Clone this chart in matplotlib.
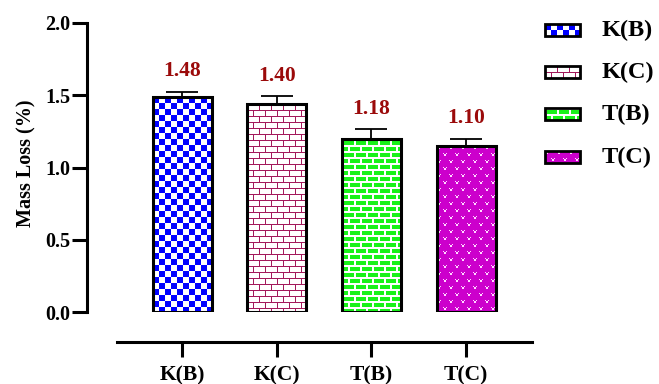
import numpy as np
import matplotlib
matplotlib.use("Agg")
import matplotlib.pyplot as plt
from matplotlib.patches import Rectangle

# data
groups = ["K(B)", "K(C)", "T(B)", "T(C)"]
mass_loss = [1.49, 1.44, 1.20, 1.15]
errors = [0.035, 0.053, 0.067, 0.048]
value_labels = ["1.48", "1.40", "1.18", "1.10"]
yticks = [0.0, 0.5, 1.0, 1.5, 2.0]

patterns = ["checker", "brick_line", "brick_green", "dots"]

plt.rcParams["font.family"] = ["Liberation Serif", "DejaVu Serif"]
plt.rcParams["font.weight"] = "bold"

W, H, DPI = 659, 384, 100


def make_pattern(kind, w, h):
    # pixel pattern for a bar fill, w x h pixels
    w = max(int(round(w)), 1)
    h = max(int(round(h)), 1)
    yy, xx = np.mgrid[0:h, 0:w]
    img = np.ones((h, w, 3))
    if kind == "checker":
        c = 6
        blue = ((xx // c) + (yy // c)) % 2 == 0
        img[blue] = (0.0, 0.0, 1.0)
    elif kind == "brick_line":
        rh, bw = 6, 12
        off = ((yy // rh) % 2) * (bw // 2)
        line = (yy % rh == 0) | ((xx + off) % bw == 0)
        img[line] = (0.64, 0.10, 0.36)
    elif kind == "brick_green":
        rh, bw = 6, 12
        off = ((yy // rh) % 2) * (bw // 2)
        green = (yy % rh >= 2) & ((xx + off) % bw >= 2)
        img[green] = (0.1, 0.95, 0.1)
    elif kind == "dots":
        img[:] = (0.80, 0.0, 0.80)
        px, py = 12, 7
        off = ((yy // py) % 2) * (px // 2)
        lx = (xx + off) % px
        ly = yy % py
        mark = (((ly == 0) & ((lx == 0) | (lx == 3))) |
                ((ly == 1) & ((lx == 1) | (lx == 2))) |
                ((ly == 2) & ((lx == 1) | (lx == 2))))
        img[mark] = (1.0, 0.85, 1.0)
    return img


fig = plt.figure(figsize=(W / DPI, H / DPI), dpi=DPI)
ax = fig.add_axes([117 / W, 72 / H, 415 / W, 289 / H])
ax.patch.set_visible(False)

x = np.arange(len(groups))
bar_w = 0.623
xlim = (-0.687, 3.697)
ylim = (0, 2.0)
ax.set_xlim(*xlim)
ax.set_ylim(*ylim)

# error bars (upper only)
ax.errorbar(x, mass_loss, yerr=[np.zeros(len(errors)), errors], fmt="none",
            ecolor="black", elinewidth=1.3, capsize=11.5, capthick=1.3, zorder=1.5)

for xi, val, kind, lab, err in zip(x, mass_loss, patterns, value_labels, errors):
    x0, x1 = xi - bar_w / 2, xi + bar_w / 2
    (px0, py0), (px1, py1) = ax.transData.transform([(x0, 0), (x1, val)])
    img = make_pattern(kind, px1 - px0, py1 - py0)
    # placed pixel for pixel, below the axes so the bar outline sits on top
    fig.figimage(img, xo=int(round(px0)), yo=int(round(py0)), zorder=-1)
    ax.add_patch(Rectangle((x0, 0), bar_w, val, fill=False,
                           edgecolor="black", linewidth=2.2, zorder=3))
    ax.annotate(lab, (xi, val + err), xytext=(0, 7.5), textcoords="offset points",
                ha="center", va="bottom", fontsize=15.5, fontweight="bold",
                color="#9B0A0A")

ax.set_xlim(*xlim)
ax.set_ylim(*ylim)

# Prism-like axes
for s in ["top", "right"]:
    ax.spines[s].set_visible(False)
ax.spines["left"].set_position(("outward", 21.6))
ax.spines["bottom"].set_position(("outward", 21.6))
ax.spines["left"].set_bounds(0, 2.0)
for s in ["left", "bottom"]:
    ax.spines[s].set_linewidth(2.2)

ax.set_xticks(x)
ax.set_xticklabels(groups, fontsize=15.5, fontweight="bold")
ax.set_yticks(yticks)
ax.set_yticklabels([f"{v:.1f}" for v in yticks], fontsize=14.5, fontweight="bold")
ax.tick_params(axis="both", length=10.8, width=2.2, color="black")
ax.tick_params(axis="x", pad=6)
ax.tick_params(axis="y", pad=1)

ax.set_ylabel("Mass Loss (%)", fontsize=14.5, fontweight="bold")
ax.yaxis.set_label_coords(-0.195, 0.516)

# legend drawn by hand with pattern swatches
leg_y = [30, 72, 114, 157]
for name, kind, yc in zip(groups, patterns, leg_y):
    fig.figimage(make_pattern(kind, 35, 12), xo=545, yo=int(H - yc - 6), zorder=-1)
    fig.add_artist(Rectangle((545 / W, 1 - (yc + 6) / H), 35 / W, 12 / H,
                             transform=fig.transFigure, fill=False,
                             edgecolor="black", linewidth=2.0))
    fig.text(602 / W, 1 - yc / H, name, fontsize=17.5, fontweight="bold",
             va="center", ha="left")

fig.savefig("out.png", dpi=DPI)
